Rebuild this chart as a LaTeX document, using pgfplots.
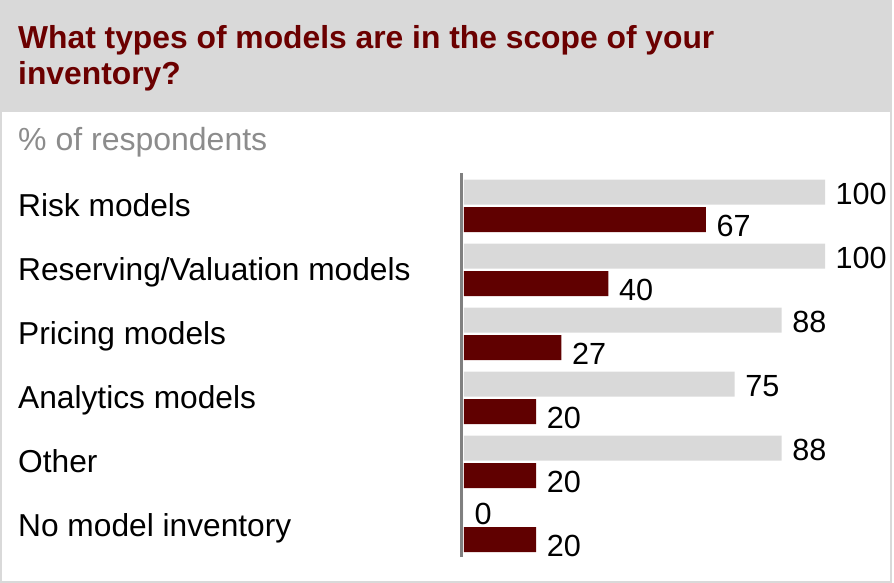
\documentclass[border=0pt]{standalone}
\usepackage{fontspec}
\setmainfont{Liberation Sans}
\usepackage{pgfplots}
\pgfplotsset{compat=1.18}
\definecolor{hdr}{HTML}{D9D9D9}
\definecolor{barg}{HTML}{D9D9D9}
\definecolor{barr}{HTML}{600000}
\definecolor{ttl}{HTML}{6B0000}
\definecolor{axg}{HTML}{808080}
\definecolor{subg}{HTML}{8C8C8C}
\begin{document}
\begin{tikzpicture}[x=1pt,y=1pt]
\useasboundingbox (0,0) rectangle (894,-583);
\fill[hdr] (0,0) rectangle (892,-112);
\draw[hdr, line width=2pt] (1,-1) rectangle (891,-581.5);
\node[anchor=base west, inner sep=0, text=ttl, font=\fontsize{31.8}{36}\selectfont\bfseries] at (18,-48.7) {What types of models are in the scope of your};
\node[anchor=base west, inner sep=0, text=ttl, font=\fontsize{31.8}{36}\selectfont\bfseries] at (18,-85) {inventory?};
\node[anchor=base west, inner sep=0, text=subg, font=\fontsize{32}{36}\selectfont] at (18,-150) {\% of respondents};
\begin{axis}[
  at={(461.65pt,-557pt)}, anchor=south west,
  x=3.61pt, y=64pt,
  xmin=-0.65, xmax=110, ymin=0.512, ymax=6.512,
  xbar, bar width=25pt,
  axis x line=none, axis y line=left,
  y axis line style={axg, line width=3pt, -},
  ytick={1,2,3,4,5,6},
  yticklabels={No model inventory, Other, Analytics models, Pricing models, Reserving/Valuation models, Risk models},
  major tick length=0pt,
  yticklabel style={anchor=base west, inner sep=0pt, xshift=-443.65pt, yshift=-10.95pt, font=\fontsize{31.7}{36}\selectfont, text=black},
  nodes near coords,
  /pgf/number format/assume math mode=true,
  clip=false,
]
\addplot[fill=barg, draw=none, bar shift=13.75pt,
  nodes near coords style={anchor=west, inner sep=0pt, xshift=10.5pt, yshift=-2pt, font=\fontsize{30.6}{36}\selectfont, text=black}]
  coordinates {(100,6) (100,5) (88,4) (75,3) (88,2) (0,1)};
\addplot[fill=barr, draw=none, bar shift=-13.75pt,
  nodes near coords style={anchor=west, inner sep=0pt, xshift=10.5pt, yshift=-6.5pt, font=\fontsize{30.6}{36}\selectfont, text=black}]
  coordinates {(67,6) (40,5) (27,4) (20,3) (20,2) (20,1)};
\end{axis}
\end{tikzpicture}
\end{document}
